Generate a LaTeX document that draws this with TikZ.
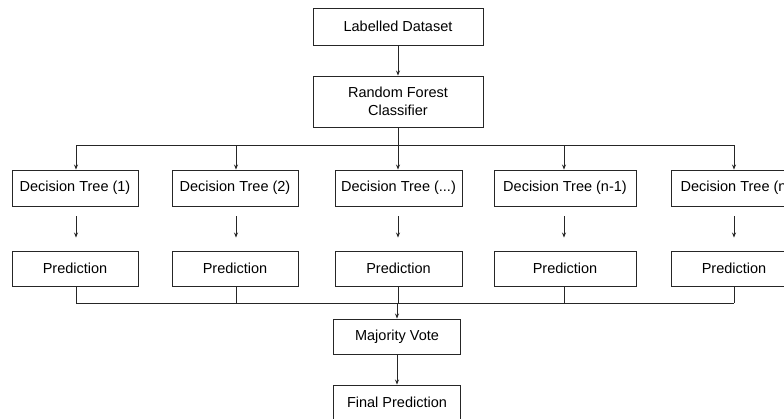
\documentclass[tikz,border=0pt]{standalone}
\usepackage{fontspec}
\setmainfont{Liberation Sans}
\usetikzlibrary{arrows.meta}
\begin{document}
\begin{tikzpicture}[x=1pt,y=-1pt,
  box/.style={draw=black!85, line width=0.9pt, fill=white, inner sep=0pt, align=center,
    font=\fontsize{14.5}{18}\selectfont},
  conn/.style={draw=black!85, line width=0.9pt},
  arr/.style={conn, -{Stealth[length=5pt,width=4pt]}}]
\useasboundingbox (0,0) rectangle (784,418);
\clip (0,0) rectangle (784,418);
\fill[white] (0,0) rectangle (784,418);
% top
\node[box, minimum width=170pt, minimum height=37pt] (ld) at (398,26.5) {Labelled Dataset};
\node[box, minimum width=170pt, minimum height=51pt] (rfc) at (398,101.5) {Random Forest\\Classifier};
% trees
\node[box, minimum width=126pt, minimum height=36pt] (dt1) at (75,188) {Decision Tree (1)};
\node[box, minimum width=126pt, minimum height=36pt] (dt2) at (235,188) {Decision Tree (2)};
\node[box, minimum width=127pt, minimum height=36pt] (dt3) at (398.5,188) {Decision Tree (...)};
\node[box, minimum width=142pt, minimum height=36pt] (dt4) at (565,188) {Decision Tree (n-1)};
\node[box, minimum width=130pt, minimum height=36pt] (dt5) at (736,188) {Decision Tree (n)};
% predictions
\node[box, minimum width=126pt, minimum height=35pt] (p1) at (75,268.5) {Prediction};
\node[box, minimum width=126pt, minimum height=35pt] (p2) at (235,268.5) {Prediction};
\node[box, minimum width=127pt, minimum height=35pt] (p3) at (398.5,268.5) {Prediction};
\node[box, minimum width=142pt, minimum height=35pt] (p4) at (565,268.5) {Prediction};
\node[box, minimum width=126pt, minimum height=35pt] (p5) at (734,268.5) {Prediction};
% bottom
\node[box, minimum width=127pt, minimum height=35pt] (mv) at (397,336.5) {Majority Vote};
\node[box, minimum width=127pt, minimum height=35pt] (fp) at (397,402.5) {Final Prediction};
% bus coordinates
\coordinate (busT) at (398,145);
\coordinate (busB) at (398,303);
\coordinate (a1) at (76,0);
\coordinate (a2) at (236,0);
\coordinate (a3) at (398,0);
\coordinate (a4) at (564,0);
\coordinate (a5) at (734,0);
% connectors
\draw[arr] (ld) -- (rfc);
\draw[conn] (rfc) -- (busT);
\draw[conn] (busT -| a1) -- (busT -| a5);
\foreach \i in {1,...,5}{
  \draw[arr] (busT -| a\i) -- (dt\i.north -| a\i);
  \draw[arr, shorten <=10pt, shorten >=13pt] (dt\i.south -| a\i) -- (p\i.north -| a\i);
  \draw[conn] (p\i.south -| a\i) -- (busB -| a\i);
}
\draw[conn] (busB -| a1) -- (busB -| a5);
\draw[arr] (busB -| mv) -- (mv);
\draw[arr] (mv) -- (fp);
\end{tikzpicture}
\end{document}
